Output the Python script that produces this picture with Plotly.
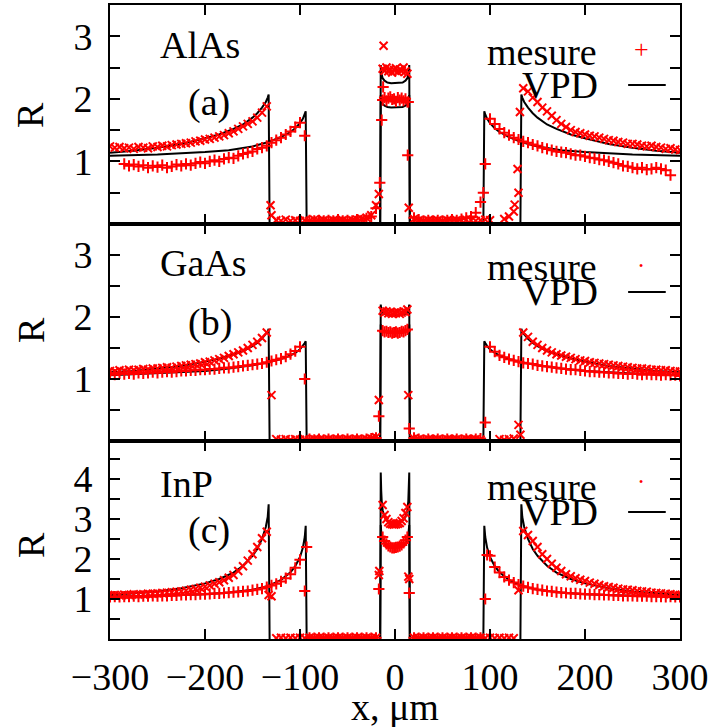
import plotly.graph_objects as go

# ---------------- measurement sampling positions (µm) ----------------
X_LEFT = list(range(-300, -19, 5))      # -300 .. -20
X_CENTER = list(range(-13, 14, 2))      # -13 .. 13
X_RIGHT = list(range(20, 301, 5))       # 20 .. 300
X_MEAS = X_LEFT + X_CENTER + X_RIGHT

# ---------------- panel (a) AlAs : measured ----------------
MEAS_A_ALAS = [
    1.24, 1.22, 1.23, 1.21, 1.22, 1.20, 1.23, 1.22, 1.21, 1.24,
    1.23, 1.25, 1.24, 1.26, 1.27, 1.28, 1.29, 1.30, 1.32, 1.33,
    1.35, 1.36, 1.38, 1.40, 1.42, 1.45, 1.48, 1.52, 1.56, 1.60,
    1.64, 1.70, 1.78, 1.88, 0.14, 0.06, 0.05, 0.07, 0.05, 0.06,
    0.05, 0.06, 0.05, 0.07, 0.05, 0.06, 0.05, 0.06, 0.05, 0.06,
    0.05, 0.06, 0.07, 0.08, 0.10, 0.14, 0.30,
    2.48, 2.45, 2.50, 2.44, 2.47, 2.42, 2.46, 2.49, 2.43, 2.47, 2.45, 2.50, 2.44, 2.40,
    0.08, 0.06, 0.05, 0.06, 0.05, 0.06, 0.05,
    0.06, 0.05, 0.06, 0.05, 0.07, 0.06, 0.05, 0.06, 0.07, 0.06,
    None, None, 0.08, 0.12, 0.20, 0.50, 2.17, 2.12, 2.02, 1.95,
    1.86, 1.80, 1.73, 1.66, 1.60, 1.55, 1.50, 1.47, 1.45, 1.43,
    1.41, 1.40, 1.38, 1.36, 1.34, 1.33, 1.31, 1.30, 1.28, 1.28,
    1.27, 1.25, 1.24, 1.25, 1.23, 1.22, 1.20, 1.21, 1.19, 1.18,
]
MEAS_B_ALAS = [
    None, None, None, 0.96, 0.93, 0.95, 0.92, 0.94, 0.90, 0.93,
    0.91, 0.94, 0.90, 0.92, 0.95, 0.93, 0.96, 0.94, 0.97, 0.99,
    0.97, 1.00, 1.02, 1.00, 1.04, 1.06, 1.05, 1.09, 1.12, 1.14,
    1.16, 1.20, 1.22, 1.25, 1.30, 1.34, 1.38, 1.43, 1.48, 1.55,
    1.62, 1.41, 0.06, 0.05, 0.06, 0.05, 0.06, 0.05, 0.07, 0.05,
    0.06, 0.05, 0.07, 0.06, 0.09, 0.12, 0.25,
    1.98, 2.02, 1.97, 2.01, 2.03, 1.99, 2.00, 1.96, 2.02, 1.98, 2.01, 1.97, 2.00, 1.95,
    0.10, 0.07, 0.05, 0.06, 0.05, 0.06, 0.05,
    0.06, 0.07, 0.06, 0.08, 0.10, 0.12, 0.18, 0.35, 0.96, 1.68,
    1.60, 1.52, 1.46, 1.42, 1.38, 1.35, 1.32, 1.30, 1.27, 1.25,
    1.22, 1.20, 1.18, 1.16, 1.15, 1.14, 1.12, 1.10, 1.10, 1.08,
    1.06, 1.05, 1.03, 1.02, 1.00, 0.98, 0.96, 0.93, 0.92, 0.90,
    0.88, 0.90, 0.87, 0.88, 0.90, 0.88, 0.86, 0.78, None, None,
]
EXTRA_A_X_ALAS = [-12, -17, -131, 14.5, 126, 129, 131.5]
EXTRA_A_Y_ALAS = [2.85, 0.48, 0.30, 0.26, 0.31, 0.88, 1.79]
EXTRA_B_X_ALAS = [-12.5, -14, -16, 13.4, 14, 93]
EXTRA_B_Y_ALAS = [2.19, 1.66, 0.66, 1.10, 1.95, 0.50]

# ---------------- panel (b) GaAs : measured ----------------
MEAS_A_GAAS = [
    1.13, 1.12, 1.14, 1.13, 1.15, 1.14, 1.15, 1.16, 1.15, 1.17,
    1.17, 1.18, 1.19, 1.18, 1.20, 1.21, 1.22, 1.23, 1.24, 1.25,
    1.27, 1.28, 1.30, 1.32, 1.34, 1.37, 1.40, 1.43, 1.46, 1.50,
    1.55, 1.60, 1.66, 1.75, 0.74, 0.03, 0.02, 0.03, 0.02, 0.03,
    0.02, 0.03, 0.02, 0.03, 0.02, 0.02, 0.03, 0.02, 0.03, 0.02,
    0.03, 0.02, 0.03, 0.02, 0.03, 0.04, 0.06,
    2.10, 2.07, 2.09, 2.06, 2.08, 2.05, 2.07, 2.06, 2.08, 2.05, 2.07, 2.09, 2.08, 2.12,
    0.04, 0.03, 0.02, 0.03, 0.02, 0.03, 0.02,
    0.03, 0.02, 0.03, 0.02, 0.03, 0.02, 0.03, 0.02, None, None,
    None, 0.03, 0.02, 0.03, 0.04, 0.26, 1.75, 1.68, 1.60, 1.55,
    1.50, 1.46, 1.43, 1.40, 1.38, 1.36, 1.34, 1.32, 1.30, 1.29,
    1.27, 1.26, 1.25, 1.24, 1.23, 1.22, 1.21, 1.20, 1.19, 1.18,
    1.17, 1.17, 1.16, 1.15, 1.15, 1.14, 1.14, 1.13, 1.12, 1.12,
]
MEAS_B_GAAS = [
    1.08, 1.07, 1.09, 1.08, 1.09, 1.08, 1.10, 1.09, 1.10, 1.11,
    1.10, 1.11, 1.12, 1.11, 1.12, 1.13, 1.13, 1.14, 1.14, 1.15,
    1.15, 1.16, 1.16, 1.17, 1.18, 1.18, 1.19, 1.20, 1.21, 1.22,
    1.23, 1.24, 1.25, 1.27, 1.29, 1.31, 1.33, 1.36, 1.40, 1.45,
    1.52, 1.00, 0.03, 0.02, 0.03, 0.02, 0.03, 0.02, 0.03, 0.02,
    0.03, 0.02, 0.03, 0.02, 0.03, 0.04, 0.05,
    1.78, 1.76, 1.77, 1.75, 1.76, 1.74, 1.75, 1.76, 1.74, 1.75, 1.77, 1.76, 1.78, 1.80,
    0.05, 0.03, 0.02, 0.03, 0.02, 0.03, 0.02,
    0.03, 0.02, 0.03, 0.02, 0.03, 0.02, 0.03, 0.04, 0.30, 1.52,
    1.44, 1.38, 1.35, 1.32, 1.30, 1.28, 1.26, 1.25, 1.24, 1.22,
    1.21, 1.20, 1.19, 1.18, 1.17, 1.16, 1.15, 1.15, 1.14, 1.13,
    1.12, 1.12, 1.11, 1.11, 1.10, 1.10, 1.09, 1.09, 1.08, 1.09,
    1.08, 1.07, 1.08, 1.07, 1.07, 1.06, 1.07, 1.06, 1.06, 1.05,
]
EXTRA_A_X_GAAS = [-17, 14, 132]
EXTRA_A_Y_GAAS = [0.66, 0.74, 0.10]
EXTRA_B_X_GAAS = [-17, 15]
EXTRA_B_Y_GAAS = [0.40, 0.20]

# ---------------- panel (c) InP : measured ----------------
MEAS_A_INP = [
    1.09, 1.10, 1.09, 1.11, 1.10, 1.12, 1.11, 1.12, 1.13, 1.13,
    1.14, 1.15, 1.16, 1.17, 1.18, 1.19, 1.21, 1.23, 1.25, 1.28,
    1.31, 1.34, 1.38, 1.42, 1.47, 1.53, 1.60, 1.70, 1.82, 1.96,
    2.12, 2.30, 2.52, 2.68, 1.07, 0.02, 0.03, 0.02, 0.03, 0.02,
    0.03, 0.02, 0.03, 0.02, 0.03, 0.02, 0.03, 0.02, 0.03, 0.02,
    0.03, 0.02, 0.03, 0.02, 0.03, 0.02, 0.03,
    3.35, 3.10, 3.00, 2.92, 2.88, 2.87, 2.86, 2.87, 2.88, 2.90, 2.95, 3.02, 3.15, 3.30,
    0.03, 0.02, 0.03, 0.02, 0.03, 0.02, 0.03,
    0.02, 0.03, 0.02, 0.03, 0.02, 0.03, 0.02, 0.03, 0.02, 0.03,
    0.02, 0.03, 0.02, 0.03, 0.02, 1.22, 2.70, 2.60, 2.45, 2.30,
    2.12, 2.00, 1.88, 1.78, 1.70, 1.62, 1.57, 1.52, 1.48, 1.45,
    1.41, 1.38, 1.35, 1.32, 1.30, 1.28, 1.26, 1.24, 1.23, 1.22,
    1.20, 1.19, 1.18, 1.16, 1.15, 1.14, 1.13, 1.12, 1.11, 1.10,
]
MEAS_B_INP = [
    1.05, 1.06, 1.05, 1.06, 1.06, 1.07, 1.06, 1.07, 1.07, 1.08,
    1.07, 1.08, 1.08, 1.09, 1.09, 1.10, 1.10, 1.11, 1.11, 1.12,
    1.12, 1.13, 1.14, 1.14, 1.15, 1.16, 1.17, 1.18, 1.19, 1.20,
    1.22, 1.24, 1.26, 1.30, 1.34, 1.38, 1.44, 1.52, 1.62, 1.78,
    1.98, 1.20, 0.03, 0.02, 0.03, 0.02, 0.03, 0.02, 0.03, 0.02,
    0.03, 0.02, 0.03, 0.02, 0.03, 0.02, 0.03,
    2.55, 2.45, 2.38, 2.33, 2.30, 2.28, 2.28, 2.29, 2.30, 2.32, 2.35, 2.40, 2.47, 2.55,
    0.03, 0.02, 0.03, 0.02, 0.03, 0.02, 0.03,
    0.02, 0.03, 0.02, 0.03, 0.02, 0.03, 0.02, 0.03, 1.00, 2.08,
    1.80, 1.66, 1.55, 1.47, 1.41, 1.36, 1.32, 1.29, 1.26, 1.24,
    1.22, 1.20, 1.19, 1.17, 1.16, 1.15, 1.14, 1.14, 1.13, 1.12,
    1.12, 1.11, 1.11, 1.10, 1.10, 1.09, 1.09, 1.08, 1.08, 1.08,
    1.07, 1.07, 1.07, 1.06, 1.06, 1.06, 1.05, 1.06, 1.05, 1.05,
]
EXTRA_A_X_INP = [-17, -16.5, 14, 15, -133]
EXTRA_A_Y_INP = [1.60, 1.70, 1.56, 1.50, 1.10]
EXTRA_B_X_INP = [-17, 15, -93, 97]
EXTRA_B_Y_INP = [1.25, 1.15, 2.30, 2.10]

# ---------------- VPD model curves ----------------
WALL_A = 133      # outer gap half width (µm)
WALL_B = 94       # inner gap half width (µm)
VPD_A_X = [133, 134, 136, 140, 145, 150, 160, 170, 185, 200, 225, 250, 275, 300]
VPD_A_ALAS = [2.07, 2.02, 1.95, 1.86, 1.77, 1.70, 1.59, 1.52, 1.43, 1.37, 1.28, 1.22, 1.17, 1.14]
VPD_A_GAAS = [1.81, 1.77, 1.72, 1.65, 1.58, 1.53, 1.45, 1.40, 1.33, 1.28, 1.21, 1.17, 1.13, 1.11]
VPD_A_INP = [3.37, 3.05, 2.80, 2.50, 2.25, 2.08, 1.83, 1.66, 1.50, 1.39, 1.27, 1.19, 1.14, 1.10]

VPD_B_X = [94, 95, 97, 100, 105, 110, 120, 133, 150, 175, 200, 250, 300]
VPD_B_ALAS = [1.80, 1.75, 1.68, 1.61, 1.53, 1.47, 1.39, 1.31, 1.24, 1.18, 1.15, 1.11, 1.09]
VPD_B_GAAS = [1.61, 1.58, 1.53, 1.48, 1.42, 1.38, 1.32, 1.27, 1.22, 1.17, 1.13, 1.09, 1.06]
VPD_B_INP = [2.83, 2.55, 2.28, 2.05, 1.82, 1.67, 1.48, 1.33, 1.23, 1.16, 1.12, 1.08, 1.06]

U_X = [-15, -14.5, -14, -13, -11, -8, -4, 0, 4, 8, 11, 13, 14, 14.5, 15]
U_UP_ALAS = [2.54, 2.44, 2.39, 2.33, 2.29, 2.26, 2.25, 2.25, 2.25, 2.26, 2.29, 2.33, 2.39, 2.44, 2.54]
U_LO_ALAS = [2.06, 1.99, 1.96, 1.92, 1.89, 1.87, 1.86, 1.86, 1.86, 1.87, 1.89, 1.92, 1.96, 1.99, 2.06]
U_UP_GAAS = [2.20, 2.13, 2.10, 2.07, 2.05, 2.04, 2.03, 2.03, 2.03, 2.04, 2.05, 2.07, 2.10, 2.13, 2.20]
U_LO_GAAS = [1.88, 1.83, 1.80, 1.78, 1.76, 1.75, 1.74, 1.74, 1.74, 1.75, 1.76, 1.78, 1.80, 1.83, 1.88]
U_UP_INP = [4.16, 3.70, 3.45, 3.22, 3.05, 2.96, 2.92, 2.91, 2.92, 2.96, 3.05, 3.22, 3.45, 3.70, 4.16]
U_LO_INP = [2.85, 2.68, 2.60, 2.50, 2.41, 2.34, 2.31, 2.30, 2.31, 2.34, 2.41, 2.50, 2.60, 2.68, 2.85]

X_TICKS = [-300, -200, -100, 0, 100, 200, 300]
Y_TICKS_35 = [0, 0.5, 1, 1.5, 2, 2.5, 3, 3.5]
Y_TEXT_35 = ["", "", "1", "", "2", "", "3", ""]
Y_TICKS_5 = [0, 0.5, 1, 1.5, 2, 2.5, 3, 3.5, 4, 4.5]
Y_TEXT_5 = ["", "", "1", "", "2", "", "3", "", "4", ""]

PANELS = [
    dict(name="AlAs", tag="(a)", ymax=3.5, yt=Y_TICKS_35, ytt=Y_TEXT_35,
         ma=MEAS_A_ALAS, mb=MEAS_B_ALAS,
         exa=(EXTRA_A_X_ALAS, EXTRA_A_Y_ALAS), exb=(EXTRA_B_X_ALAS, EXTRA_B_Y_ALAS),
         va=VPD_A_ALAS, vb=VPD_B_ALAS, uu=U_UP_ALAS, ul=U_LO_ALAS, leg="+"),
    dict(name="GaAs", tag="(b)", ymax=3.5, yt=Y_TICKS_35, ytt=Y_TEXT_35,
         ma=MEAS_A_GAAS, mb=MEAS_B_GAAS,
         exa=(EXTRA_A_X_GAAS, EXTRA_A_Y_GAAS), exb=(EXTRA_B_X_GAAS, EXTRA_B_Y_GAAS),
         va=VPD_A_GAAS, vb=VPD_B_GAAS, uu=U_UP_GAAS, ul=U_LO_GAAS, leg="•"),
    dict(name="InP", tag="(c)", ymax=4.95, yt=Y_TICKS_5, ytt=Y_TEXT_5,
         ma=MEAS_A_INP, mb=MEAS_B_INP,
         exa=(EXTRA_A_X_INP, EXTRA_A_Y_INP), exb=(EXTRA_B_X_INP, EXTRA_B_Y_INP),
         va=VPD_A_INP, vb=VPD_B_INP, uu=U_UP_INP, ul=U_LO_INP, leg="•"),
]

RED = "#ff0000"
FONT = "Liberation Serif"
FS = 38

# layout geometry (fractions of plotting area)
DOMAINS = [(0.6546, 1.0), (0.3123, 0.6546), (0.0, 0.3123)]


def outer_path(xs, ys, wall):
    px = [-v for v in reversed(xs)] + [-(wall - 1), None, wall - 1] + list(xs)
    py = list(reversed(ys)) + [0, None, 0] + list(ys)
    return px, py


def center_path(xs, ys):
    px = [xs[0] - 0.6] + list(xs) + [xs[-1] + 0.6]
    py = [0] + list(ys) + [0]
    return px, py


fig = go.Figure()
annotations = []
shapes = []

for i, p in enumerate(PANELS):
    n = "" if i == 0 else str(i + 1)
    xa, ya = "x" + n, "y" + n
    line = dict(color="black", width=2)
    for xs, ys, wall in ((VPD_A_X, p["va"], WALL_A), (VPD_B_X, p["vb"], WALL_B)):
        px, py = outer_path(xs, ys, wall)
        fig.add_trace(go.Scatter(x=px, y=py, mode="lines", line=line,
                                 xaxis=xa, yaxis=ya, showlegend=False))
    for ys in (p["uu"], p["ul"]):
        px, py = center_path(U_X, ys)
        fig.add_trace(go.Scatter(x=px, y=py, mode="lines", line=line,
                                 xaxis=xa, yaxis=ya, showlegend=False))
    for yy, ex, sym in ((p["ma"], p["exa"], "x-thin"), (p["mb"], p["exb"], "cross-thin")):
        fig.add_trace(go.Scatter(x=X_MEAS + ex[0], y=yy + ex[1], mode="markers",
                                 marker=dict(symbol=sym, size=8, color=RED,
                                             line=dict(color=RED, width=2)),
                                 xaxis=xa, yaxis=ya, showlegend=False,
                                 cliponaxis=True))

    axis_common = dict(showline=True, linecolor="black", linewidth=2, mirror="ticks",
                       ticks="inside", ticklen=10, tickwidth=2, tickcolor="black",
                       showgrid=False, zeroline=False, automargin=False,
                       tickfont=dict(family=FONT, size=FS, color="black"))
    fig.update_layout(**{
        ("xaxis" + n): dict(axis_common, range=[-300, 300], tickvals=X_TICKS,
                            showticklabels=(i == 2), domain=[0, 1], ticklabelstandoff=3,
                            anchor=ya, **({} if i == 2 else {"matches": "x3"})),
        ("yaxis" + n): dict(axis_common, range=[0, p["ymax"]], tickvals=p["yt"],
                            ticktext=p["ytt"], domain=list(DOMAINS[i]), anchor=xa,
                            ticklabelstandoff=8),
    })

    xd, yd = xa + " domain", ya + " domain"
    tf = dict(family=FONT, size=FS, color="black")
    ypos = [(0.816, 0.554, 0.784, 0.798, 0.635), (0.818, 0.548, 0.802, 0.806, 0.687),
            (0.783, 0.55, 0.768, 0.793, 0.641)][i]
    annotations += [
        dict(text=p["name"], x=0.084, y=ypos[0], xref=xd, yref=yd, xanchor="left",
             yanchor="middle", showarrow=False, font=tf),
        dict(text=p["tag"], x=0.133, y=ypos[1], xref=xd, yref=yd, xanchor="left",
             yanchor="middle", showarrow=False, font=tf),
        dict(text="mesure", x=0.858, y=ypos[2], xref=xd, yref=yd, xanchor="right",
             yanchor="middle", showarrow=False, font=tf),
        dict(text=p["leg"], x=0.932, y=ypos[3], xref=xd, yref=yd, xanchor="center",
             yanchor="middle", showarrow=False,
             font=dict(family=FONT, size=26 if p["leg"] == "+" else 12, color=RED)),
        dict(text="VPD", x=0.860, y=ypos[4], xref=xd, yref=yd, xanchor="right",
             yanchor="middle", showarrow=False, font=tf),
    ]
    shapes.append(dict(type="line", xref=xd, yref=yd, x0=0.909, x1=0.975,
                       y0=ypos[4], y1=ypos[4], line=dict(color="black", width=2)))

# axis titles
for yc in (0.826, 0.487, 0.148):
    annotations.append(dict(text="R", x=-0.139, y=yc, xref="paper", yref="paper",
                            xanchor="center", yanchor="middle",
                            textangle=-90, showarrow=False,
                            font=dict(family=FONT, size=FS, color="black")))
annotations.append(dict(text="x, μm", x=0.5, y=-0.108, xref="paper", yref="paper",
                        showarrow=False, xanchor="center", yanchor="middle",
                        font=dict(family=FONT, size=FS, color="black")))

fig.update_layout(width=714, height=727, margin=dict(l=110, r=34, t=5, b=88),
                  paper_bgcolor="white", plot_bgcolor="white",
                  annotations=annotations, shapes=shapes, showlegend=False)

fig.write_html("out.html", config={"displayModeBar": False},
               post_script="document.body.style.margin='0';document.body.style.padding='0';")
